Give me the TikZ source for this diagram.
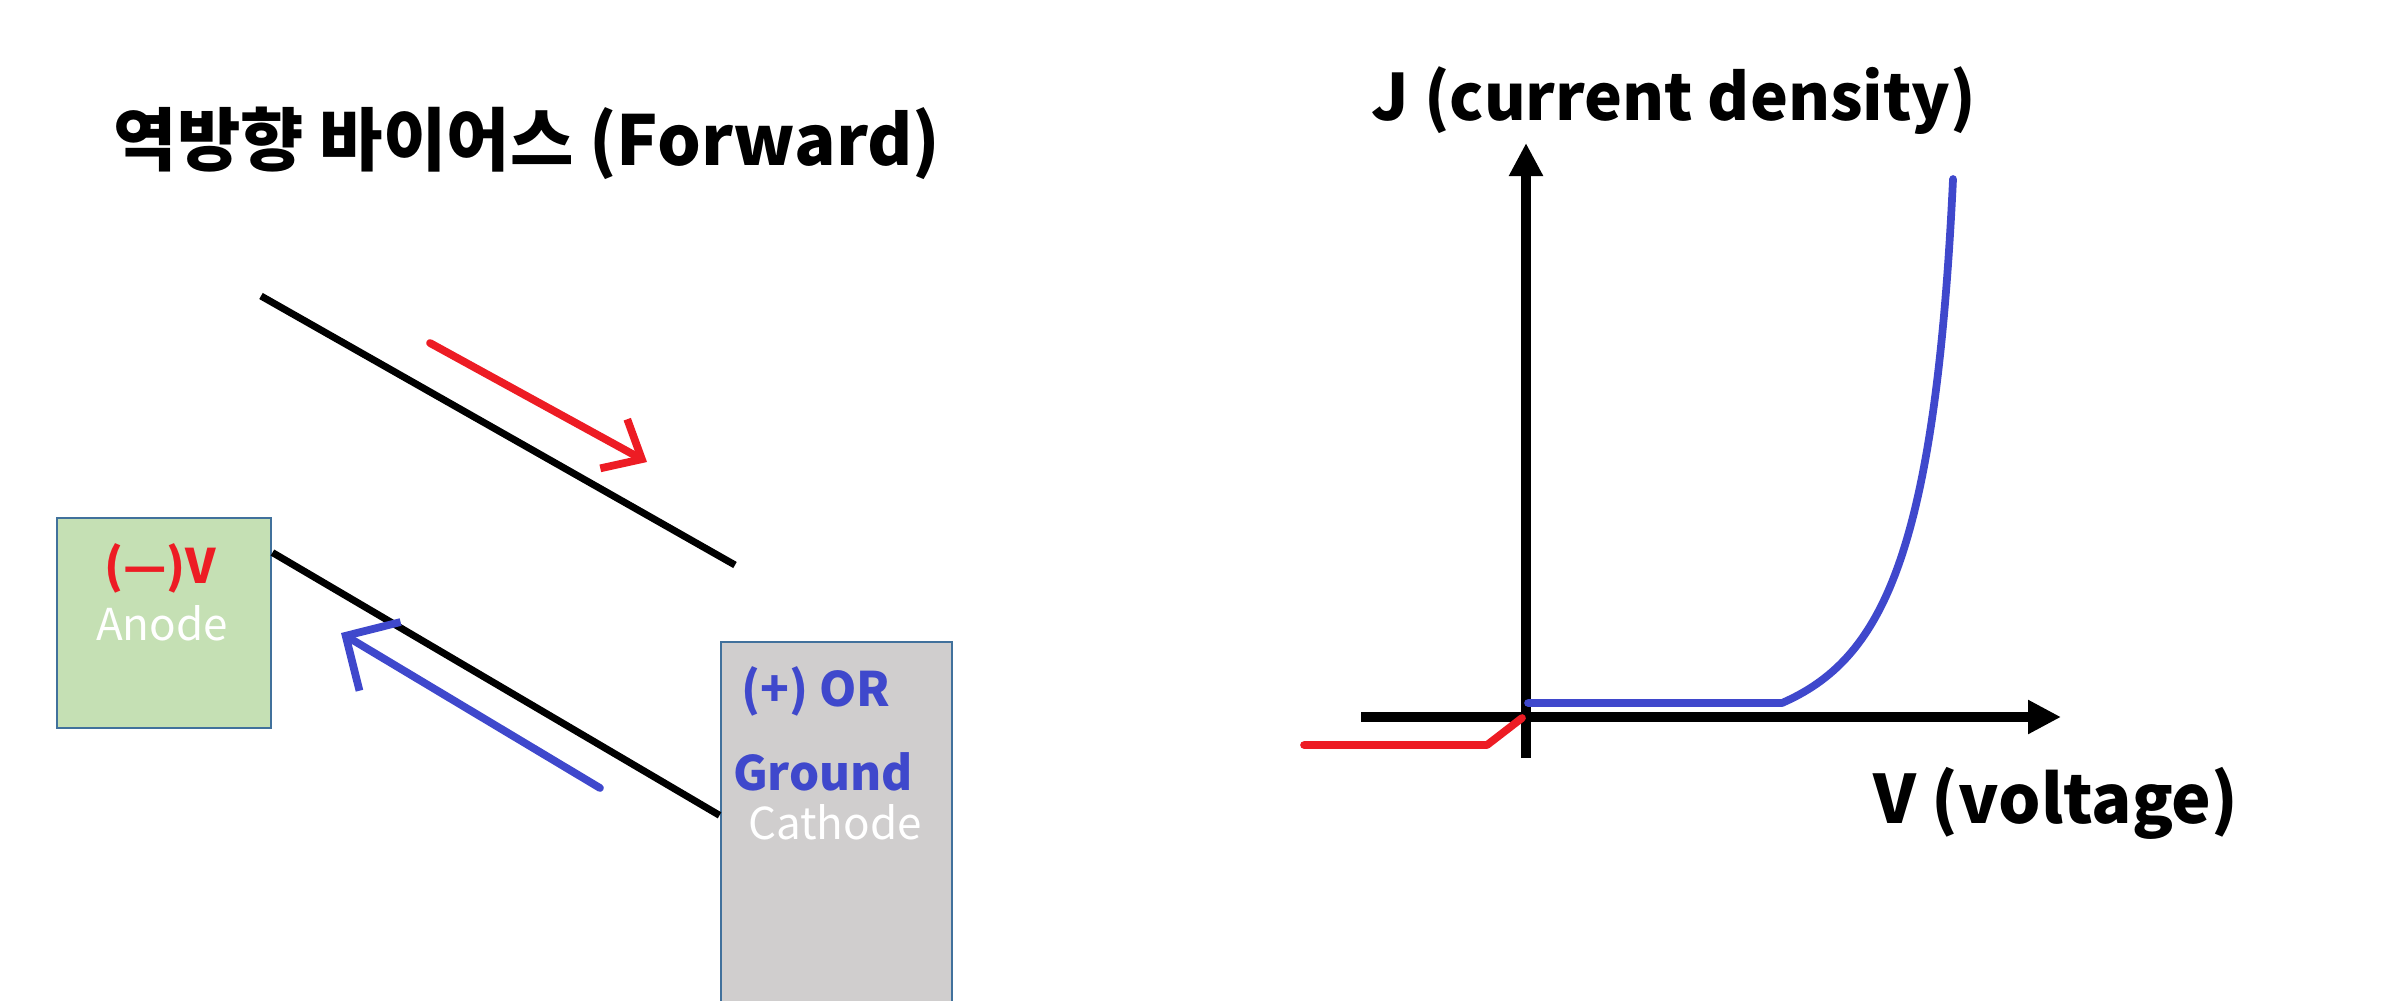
\documentclass[tikz,border=0pt]{standalone}
\usepackage{fontspec}
\setmainfont{Noto Sans CJK KR}
\usetikzlibrary{arrows.meta}
\definecolor{pred}{HTML}{ED1C24}
\definecolor{pblue}{HTML}{3F48CC}
\definecolor{anodefill}{HTML}{C5E0B4}
\definecolor{cathodefill}{HTML}{D0CECE}
\definecolor{boxline}{HTML}{41719C}

\begin{document}
\begin{tikzpicture}[x=0.01cm, y=-0.01cm,
	elec/.style={rectangle, draw=boxline, line width=0.8pt, inner sep=0pt},
	big/.style={anchor=base, font=\bfseries\fontsize{19}{23}\selectfont},
	inbox/.style={anchor=base, font=\fontsize{12.5}{15}\selectfont, text=white},
	sign/.style={anchor=base, font=\bfseries\fontsize{13.5}{16}\selectfont},
	wire/.style={line width=2pt},
	flow/.style={line width=2.2pt, line cap=round, line join=round},
	axis/.style={line width=2.85pt, -{Triangle[length=3.3mm,width=3.2mm]}}]
	\useasboundingbox (0,0) rectangle (2401,1000);

	\node [big, font=\bfseries\fontsize{19.6}{23}\selectfont] (title) at (527,165) {역방향 바이어스 (Forward)};

	\node [elec, fill=anodefill, minimum width=2.14cm, minimum height=2.10cm] (anode) at (164,623) {};
	\node [elec, fill=cathodefill, minimum width=2.31cm, minimum height=3.63cm] (cathode) at (836.5,823.5) {};

	\node [sign, text=pred] (vneg) at (160,583) {(—)V};
	\node [inbox] (anodetxt) at (162,640) {Anode};
	\node [sign, text=pblue] (vpos) at (816,706) {(+) OR};
	\node [sign, text=pblue] (gnd) at (823,790) {Ground};
	\node [inbox] (cathodetxt) at (835,839) {Cathode};

	\coordinate (up1) at (261,296);
	\coordinate (up2) at (735,565);
	\coordinate (r1) at (430,343);
	\coordinate (r2) at (647,462);
	\coordinate (b1) at (600,788);
	\coordinate (b2) at (341,633);

	\draw [wire] (up1) -- (up2);
	\draw [wire] (anode.33.6) -- (cathode.176.8);
	\draw [flow, pred, -{Straight Barb[length=3.2mm,width=5.6mm]}] (r1) -- (r2);
	\draw [flow, pblue, -{Straight Barb[length=4mm,width=8mm]}] (b1) -- (b2);

	\coordinate (xs) at (1361,717);
	\coordinate (xe) at (2061,717);
	\coordinate (ys) at (1526,758);
	\coordinate (ye) at (1526,143);
	\draw [axis] (xs) -- (xe);
	\draw [axis] (ys) -- (ye);

	\node [big, font=\bfseries\fontsize{18.2}{22}\selectfont] (jlbl) at (1674,120) {J (current density)};
	\node [big] (vlbl) at (2056,823) {V (voltage)};

	\draw [flow, pred] (1304,745) -- (1487,745) -- (1522,718);
	\draw [flow, pblue] (1528,703) -- (1782,703) .. controls (1880,660) and (1935,560) .. (1953,179);

\end{tikzpicture}
\end{document}
